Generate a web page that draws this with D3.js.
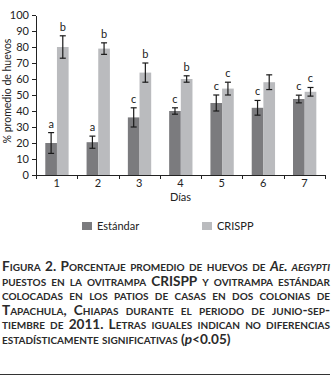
<!DOCTYPE html>
<html>
<head>
  <meta charset="utf-8">
  <script src="https://d3js.org/d3.v7.min.js"></script>
  <style>
    body { margin: 0; background: #fff; font-family: Lato, sans-serif; }
    #chart svg { display: block; }
    .axis path, .axis line { stroke: #222; shape-rendering: crispEdges; }
    .axis text { font-family: Lato, sans-serif; font-size: 11px; fill: #222; }
    .sig { font-size: 11px; fill: #222; text-anchor: middle; }
    #caption { position: absolute; left: 2px; top: 259px; width: 328px;
      font-family: Lato, sans-serif; font-weight: 700; font-size: 13.6px; line-height: 14.6px;
      font-variant: small-caps; color: #2a2a2a; }
    #caption div { text-align: justify; text-align-last: justify; white-space: nowrap; }
    #caption div.last { text-align-last: left; }
    #rule { position: absolute; left: 0; top: 374px; width: 330px; height: 0; border-top: 1.5px solid #333; }
  </style>
</head>
<body>
  <div id="chart"></div>
  <div id="caption"></div>
  <div id="rule"></div>
  <script>
    const days = ["1", "2", "3", "4", "5", "6", "7"];
    const series = ["Estándar", "CRISPP"];
    const estandar = [20, 20.5, 36, 40, 45, 42, 47.5];
    const estandarErr = [6.5, 3.8, 6, 2, 5, 4.6, 2.4];
    const crispp = [80, 79, 64, 60, 54, 58, 52];
    const crisppErr = [7, 3.6, 6, 2, 4, 4.6, 2.7];
    const estandarSig = ["a", "a", "c", "c", "c", "c", "c"];
    const crisppSig = ["b", "b", "b", "b", "c", "", "c"];
    const yTicks = [0, 10, 20, 30, 40, 50, 60, 70, 80, 90, 100];
    const colors = ["#7b7b7e", "#babbbe"];

    const W = 331, H = 382;
    const mLeft = 36, mRight = 325, mTop = 15, mBottom = 175;

    const svg = d3.select("#chart").append("svg")
      .attr("width", W).attr("height", H);

    const x0 = d3.scaleBand().domain(days).range([mLeft, mRight]).padding(0);
    const step = x0.bandwidth();
    const x1 = d3.scaleBand().domain(series).range([step * 0.225, step * 0.79]).padding(0);
    const y = d3.scaleLinear().domain([0, 100]).range([mBottom, mTop]);
    const xb = d3.scaleLinear().domain([0, 7]).range([mLeft, mRight]);

    // y axis
    svg.append("g").attr("class", "axis")
      .attr("transform", `translate(${mLeft},0)`)
      .call(d3.axisLeft(y).tickValues(yTicks).tickSize(4).tickSizeOuter(0).tickPadding(3));

    // x axis: boundary ticks
    svg.append("g").attr("class", "axis")
      .attr("transform", `translate(0,${mBottom})`)
      .call(d3.axisBottom(xb).tickValues(d3.range(0, 8)).tickFormat("").tickSize(4).tickSizeOuter(0));

    // x labels at band centres
    svg.append("g").attr("class", "axis")
      .attr("transform", `translate(0,${mBottom})`)
      .call(d3.axisBottom(x0).tickSize(0).tickPadding(4))
      .call(g => g.select(".domain").remove());

    const rows = days.map((d, i) => [
      {day: d, s: series[0], v: estandar[i], e: estandarErr[i], sig: estandarSig[i]},
      {day: d, s: series[1], v: crispp[i], e: crisppErr[i], sig: crisppSig[i]}
    ]).flat();

    const bars = svg.append("g");
    bars.selectAll("rect").data(rows).join("rect")
      .attr("x", d => x0(d.day) + x1(d.s))
      .attr("y", d => y(d.v))
      .attr("width", x1.bandwidth())
      .attr("height", d => y(0) - y(d.v))
      .attr("fill", d => colors[series.indexOf(d.s)]);

    // error bars
    const eg = svg.append("g").attr("stroke", "#1a1a1a").attr("stroke-width", 1.2);
    rows.forEach(d => {
      const cx = x0(d.day) + x1(d.s) + x1.bandwidth() / 2;
      eg.append("line").attr("x1", cx).attr("x2", cx).attr("y1", y(d.v - d.e)).attr("y2", y(d.v + d.e));
      [d.v - d.e, d.v + d.e].forEach(v => {
        eg.append("line").attr("x1", cx - 3).attr("x2", cx + 3).attr("y1", y(v)).attr("y2", y(v));
      });
    });

    svg.append("g").selectAll("text").data(rows.filter(d => d.sig)).join("text")
      .attr("class", "sig")
      .attr("x", d => x0(d.day) + x1(d.s) + x1.bandwidth() / 2)
      .attr("y", d => y(d.v + d.e) - 5)
      .text(d => d.sig);

    // axis titles
    svg.append("text")
      .attr("transform", "translate(11,91) rotate(-90)")
      .attr("text-anchor", "middle")
      .attr("font-size", 10.5).attr("fill", "#222")
      .text("% promedio de huevos");

    svg.append("text")
      .attr("x", (mLeft + mRight) / 2).attr("y", 201)
      .attr("text-anchor", "middle")
      .attr("font-size", 11).attr("fill", "#222")
      .text("Días");

    // legend
    const legX = [82, 202];
    const leg = svg.append("g").selectAll("g").data(series).join("g")
      .attr("transform", (d, i) => `translate(${legX[i]},222)`);
    leg.append("rect").attr("width", 10).attr("height", 8)
      .attr("fill", (d, i) => colors[i]);
    leg.append("text").attr("x", 15).attr("y", 8)
      .attr("font-size", 11).attr("fill", "#222")
      .text(d => d);

    // caption
    const captionLines = [
      'Figura 2. Porcentaje promedio de huevos de <i>Ae. aegypti</i>',
      'puestos en la ovitrampa <span style="font-variant:normal">CRISPP</span> y ovitrampa estándar',
      'colocadas en los patios de casas en dos colonias de',
      'Tapachula, Chiapas durante el periodo de junio-sep-',
      'tiembre de 2011. Letras iguales indican no diferencias',
      'estadísticamente significativas (<i style="font-variant:normal">p</i><span style="font-variant:normal">&lt;0.05</span>)'
    ];
    d3.select("#caption").selectAll("div").data(captionLines).join("div")
      .classed("last", (d, i) => i === captionLines.length - 1)
      .html(d => d);
  </script>
</body>
</html>
